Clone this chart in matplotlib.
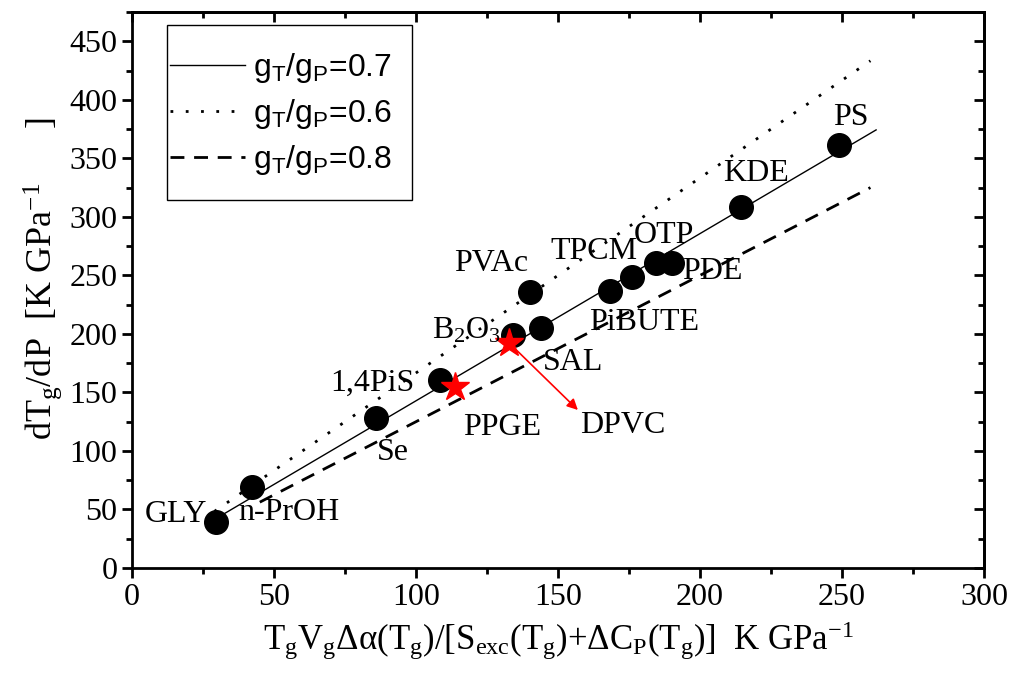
import numpy as np
import matplotlib
matplotlib.use("Agg")
import matplotlib.pyplot as plt
from matplotlib.ticker import MultipleLocator
from matplotlib.patches import Rectangle

# data
names = ["GLY", "n-PrOH", "Se", "1,4PiS", "B2O3", "PVAc", "SAL",
         "PiBUTE", "TPCM", "OTP", "PDE", "KDE", "PS"]
x_pts = [29.6, 42.3, 85.9, 108.5, 134.2, 140.1, 144.0,
         168.3, 176.0, 184.5, 190.1, 214.4, 248.9]
y_pts = [39.3, 69.3, 128.3, 160.8, 199.3, 236.1, 205.3,
         237.0, 249.0, 261.0, 261.0, 308.0, 361.0]

star_names = ["PPGE", "DPVC"]
x_star = [113.7, 132.7]
y_star = [154.8, 192.5]

# g_T/g_P ratios, dT/dP = x / ratio
ratios = [0.7, 0.6, 0.8]
x_start = [29, 29, 45]
x_end = [262, 260, 260]
styles = ["-", (0, (1, 4.5)), (0, (5, 3.5))]
widths = [1.0, 2.0, 2.0]

# label text and positions (left edge, vertical centre)
label_text = {"GLY": "GLY", "n-PrOH": "n-PrOH", "Se": "Se", "1,4PiS": "1,4PiS",
              "B2O3": r"B$_2$O$_3$", "PVAc": "PVAc", "SAL": "SAL",
              "PiBUTE": "PiBUTE", "TPCM": "TPCM", "OTP": "OTP", "PDE": "PDE",
              "KDE": "KDE", "PS": "PS", "PPGE": "PPGE", "DPVC": "DPVC"}
label_x = {"GLY": 4.6, "n-PrOH": 37.3, "Se": 86.3, "1,4PiS": 69.7, "B2O3": 105.6,
           "PVAc": 113.4, "SAL": 144.7, "PiBUTE": 161.0, "TPCM": 147.5, "OTP": 176.8,
           "PDE": 193.7, "KDE": 208.0, "PS": 246.8, "PPGE": 116.5, "DPVC": 157.7}
label_y = {"GLY": 45.3, "n-PrOH": 47.0, "Se": 99.0, "1,4PiS": 158.0, "B2O3": 203.0,
           "PVAc": 260.0, "SAL": 176.0, "PiBUTE": 210.0, "TPCM": 270.0, "OTP": 284.0,
           "PDE": 253.0, "KDE": 337.0, "PS": 385.0, "PPGE": 120.0, "DPVC": 122.0}

arrow_end = (157.0, 135.0)

serif = "Liberation Serif"
sans = "Liberation Sans"
plt.rcParams["mathtext.default"] = "regular"

fig = plt.figure(figsize=(10.13, 6.87), dpi=100)
ax = fig.add_axes([0.1303, 0.1732, 0.8411, 0.8093])

for r, xs, xe, ls, lw in zip(ratios, x_start, x_end, styles, widths):
    xx = np.array([xs, xe])
    ax.plot(xx, xx / r, color="black", linestyle=ls, linewidth=lw,
            label=r"g$_T$/g$_P$=%g" % r)

ax.plot(x_pts, y_pts, "o", color="black", markersize=17, zorder=3)
ax.plot(x_star, y_star, "*", color="red", markersize=21, zorder=4)

ax.annotate("", xy=arrow_end, xytext=(x_star[1], y_star[1]),
            arrowprops=dict(arrowstyle="-|>", color="red", lw=1.2,
                            mutation_scale=16, shrinkA=0, shrinkB=0), zorder=5)

for n in names + star_names:
    ax.text(label_x[n], label_y[n], label_text[n], fontsize=23, family=serif,
            ha="left", va="center", zorder=6)

ax.set_xlim(0, 300)
ax.set_ylim(0, 475)
ax.xaxis.set_major_locator(MultipleLocator(50))
ax.xaxis.set_minor_locator(MultipleLocator(25))
ax.set_yticks(np.arange(0, 451, 50))
ax.yaxis.set_minor_locator(MultipleLocator(25))

for s in ax.spines.values():
    s.set_linewidth(2)
ax.tick_params(which="both", direction="out", width=2, labelsize=23,
               top=False, right=False)
ax.tick_params(which="major", length=7)
ax.tick_params(which="minor", length=4)
for lab in ax.get_xticklabels() + ax.get_yticklabels():
    lab.set_family(serif)

# top and right ticks point inward
secx = ax.secondary_xaxis("top")
secx.xaxis.set_major_locator(MultipleLocator(50))
secx.xaxis.set_minor_locator(MultipleLocator(25))
secy = ax.secondary_yaxis("right")
secy.set_yticks(np.arange(0, 451, 50))
secy.yaxis.set_minor_locator(MultipleLocator(25))
for sec in (secx, secy):
    sec.tick_params(which="both", direction="in", width=2,
                    labeltop=False, labelright=False)
    sec.tick_params(which="major", length=7)
    sec.tick_params(which="minor", length=4)
    for s in sec.spines.values():
        s.set_linewidth(2)

ax.set_xlabel(r"T$_g$V$_g$$\Delta\alpha$(T$_g$)/[S$_{exc}$(T$_g$)+$\Delta$C$_P$(T$_g$)]  K GPa$^{-1}$",
              fontsize=25, family=serif, labelpad=6)
ax.set_ylabel(r"dT$_g$/dP  [K GPa$^{-1}$      ]", fontsize=26, family=serif)
ax.yaxis.set_label_coords(-0.08, 0.52)

# legend without its own frame, box drawn to match the reference
leg = ax.legend(loc="center left", bbox_to_anchor=(0.0446, 0.8165), borderaxespad=0,
                prop={"family": sans, "size": 23}, frameon=False,
                handlelength=2.35, handletextpad=0.25, labelspacing=0.37,
                borderpad=0)
ax.add_patch(Rectangle((0.041, 0.6619), 0.2875, 0.3147, transform=ax.transAxes,
                       fill=False, edgecolor="black", linewidth=1, zorder=7))

fig.savefig("out.png", dpi=100)
